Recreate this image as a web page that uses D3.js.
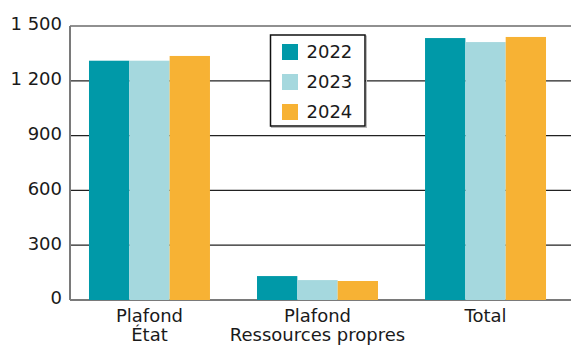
<!DOCTYPE html>
<html>
<head>
<meta charset="utf-8">
<script src="https://cdn.jsdelivr.net/npm/d3@7"></script>
<style>
  html, body { margin: 0; padding: 0; background: #fff; }
  svg { display: block; font-family: "DejaVu Sans", "Open Sans", sans-serif; }
</style>
</head>
<body>
<svg id="chart" width="571" height="345"></svg>
<script>
// Categories (multi-line labels) and yearly series
const categories = ["Plafond\nÉtat", "Plafond\nRessources propres", "Total"];
const years = ["2022", "2023", "2024"];
const values2022 = [1310, 131, 1434];
const values2023 = [1310, 109, 1412];
const values2024 = [1336, 104, 1440];
const yTicks = [0, 300, 600, 900, 1200, 1500];
const colors = ["#0099A8", "#A5D8DE", "#F7B234"];

const series = [values2022, values2023, values2024];

const svg = d3.select("#chart");
const W = 571;
const plotLeft = 70, plotTop = 26, plotBottom = 300;

const y = d3.scaleLinear().domain([0, 1500]).range([plotBottom, plotTop]);
const x0 = d3.scaleBand().domain(categories).range([70, 565])
  .paddingInner(0.28).paddingOuter(0.113);
const x1 = d3.scaleBand().domain(years).range([0, x0.bandwidth()]);

const fmt = v => d3.format(",")(v).replace(/,/g, " ");

// Horizontal grid lines
svg.append("g").selectAll("line").data(yTicks).join("line")
  .attr("x1", plotLeft).attr("x2", W)
  .attr("y1", d => y(d)).attr("y2", d => y(d))
  .attr("stroke", d => d === 0 ? "#7a7a7a" : "#222")
  .attr("stroke-width", d => d === 0 ? 2 : 1.2);

// Left axis line
svg.append("line")
  .attr("x1", plotLeft).attr("x2", plotLeft)
  .attr("y1", plotTop).attr("y2", plotBottom)
  .attr("stroke", "#7a7a7a").attr("stroke-width", 2);

// Y tick labels
svg.append("g").selectAll("text").data(yTicks).join("text")
  .attr("x", 62).attr("y", d => y(d) - 2)
  .attr("dy", "0.36em")
  .attr("text-anchor", "end")
  .attr("font-size", 18)
  .attr("fill", "#1a1a1a")
  .text(fmt);

// Bars
const groups = svg.append("g").selectAll("g").data(categories).join("g")
  .attr("transform", d => `translate(${x0(d)},0)`);
groups.selectAll("rect")
  .data((c, i) => years.map((yr, k) => ({ yr, v: series[k][i], k })))
  .join("rect")
  .attr("x", d => x1(d.yr))
  .attr("width", x1.bandwidth())
  .attr("y", d => y(d.v))
  .attr("height", d => y(0) - y(d.v))
  .attr("fill", d => colors[d.k]);

// Category labels
const cat = svg.append("g").selectAll("text").data(categories).join("text")
  .attr("x", d => x0(d) + x0.bandwidth() / 2)
  .attr("y", 321.5)
  .attr("text-anchor", "middle")
  .attr("font-size", 18)
  .attr("fill", "#1a1a1a");
cat.selectAll("tspan").data(d => d.split("\n")).join("tspan")
  .attr("x", function () { return d3.select(this.parentNode).attr("x"); })
  .attr("dy", (d, i) => i === 0 ? 0 : 19.5)
  .text(d => d);

// Legend
const lg = svg.append("g");
lg.append("rect")
  .attr("x", 271.5).attr("y", 36).attr("width", 95).attr("height", 91.5)
  .attr("fill", "none").attr("stroke", "#bbb").attr("stroke-width", 1);
lg.append("rect")
  .attr("x", 270.5).attr("y", 35).attr("width", 94.5).attr("height", 91)
  .attr("fill", "#fff").attr("stroke", "#111").attr("stroke-width", 1.5);
const item = lg.selectAll("g.item").data(years).join("g")
  .attr("class", "item")
  .attr("transform", (d, i) => `translate(282,${44 + i * 30})`);
item.append("rect").attr("width", 16).attr("height", 16)
  .attr("fill", (d, i) => colors[i]);
item.append("text")
  .attr("x", 24.5).attr("y", 8).attr("dy", "0.36em")
  .attr("font-size", 18).attr("fill", "#1a1a1a")
  .text(d => d);
</script>
</body>
</html>
